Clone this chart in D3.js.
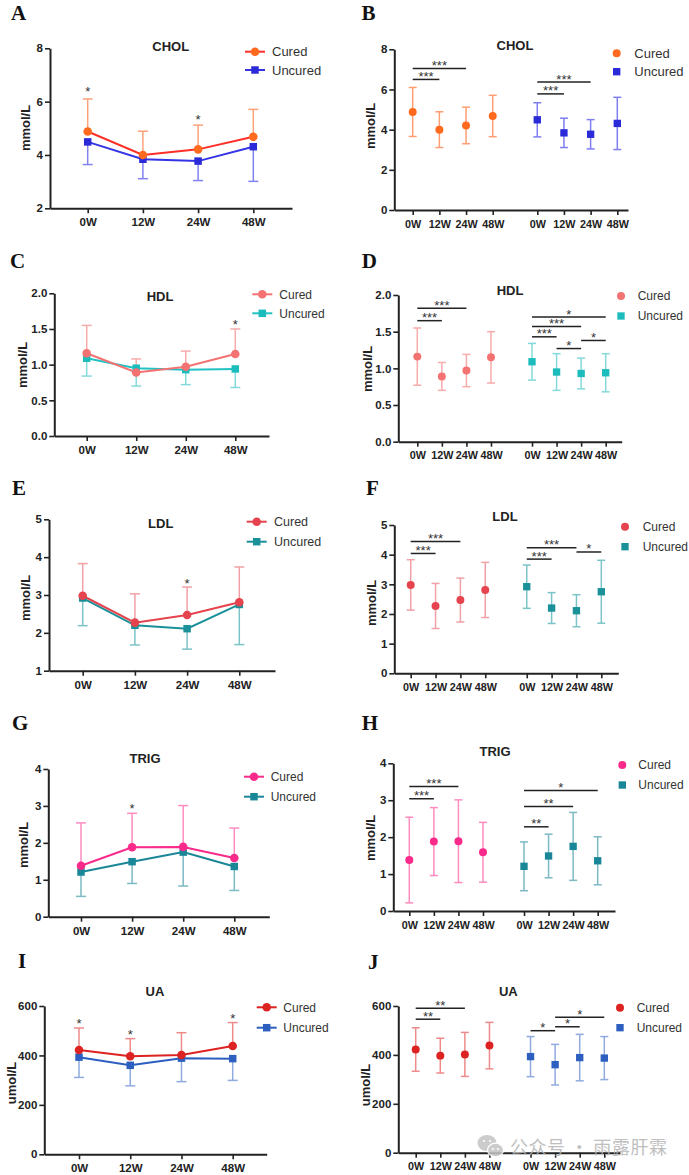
<!DOCTYPE html>
<html><head><meta charset="utf-8">
<script src="https://cdn.jsdelivr.net/npm/d3@7"></script>
<style>body{margin:0;background:#fff} svg{display:block}</style>
</head><body>
<svg id="chart" width="689" height="1175"></svg>
<script>
const times = ["0W","12W","24W","48W"];
const groups = ["Cured","Uncured"];

const cholCuredMean = [4.88, 4.00, 4.21, 4.68];
const cholCuredSD = [1.22, 0.89, 0.91, 1.03];
const cholUncuredMean = [4.49, 3.84, 3.77, 4.31];
const cholUncuredSD = [0.85, 0.73, 0.73, 1.30];

const hdlCuredMean = [1.16, 0.89, 0.97, 1.15];
const hdlCuredSD = [0.39, 0.19, 0.22, 0.35];
const hdlUncuredMean = [1.09, 0.95, 0.93, 0.94];
const hdlUncuredSD = [0.25, 0.25, 0.21, 0.26];

const ldlCuredMean = [2.98, 2.27, 2.47, 2.81];
const ldlCuredSD = [0.85, 0.76, 0.74, 0.93];
const ldlUncuredMean = [2.92, 2.20, 2.11, 2.75];
const ldlUncuredSD = [0.73, 0.52, 0.54, 1.06];

const trigCuredMean = [1.38, 1.88, 1.89, 1.59];
const trigCuredSD = [1.16, 0.92, 1.12, 0.81];
const trigUncuredMean = [1.21, 1.49, 1.75, 1.36];
const trigUncuredSD = [0.66, 0.59, 0.92, 0.65];

const uaCuredMean = [422, 397, 402, 438];
const uaCuredSD = [89, 71, 90, 95];
const uaUncuredMean = [393, 360, 389, 387];
const uaUncuredSD = [82, 83, 95, 88];

// between-group stars: [time index, y value, label]
const cholGroupStars = [[0, 6.5, "*"], [2, 5.45, "*"]];
const hdlGroupStars = [[3, 1.61, "*"]];
const ldlGroupStars = [[2, 3.37, "*"]];
const trigGroupStars = [[1, 3.0, "*"]];
const uaGroupStars = [[0, 540, "*"], [1, 496, "*"], [3, 563, "*"]];

// within-group comparisons: [group index, from time, to time, y value, label]
const cholPairs = [[0,0,2,7.05,"***"],[0,0,1,6.5,"***"],[1,0,2,6.37,"***"],[1,0,1,5.78,"***"]];
const hdlPairs = [[0,0,2,1.82,"***"],[0,0,1,1.65,"***"],[1,0,3,1.70,"*"],[1,0,2,1.57,"***"],[1,0,1,1.43,"***"],[1,2,3,1.38,"*"],[1,1,2,1.27,"*"]];
const ldlPairs = [[0,0,2,4.44,"***"],[0,0,1,4.04,"***"],[1,0,2,4.23,"***"],[1,0,1,3.85,"***"],[1,2,3,4.09,"*"]];
const trigPairs = [[0,0,2,3.37,"***"],[0,0,1,3.04,"***"],[1,0,3,3.26,"*"],[1,0,2,2.83,"**"],[1,0,1,2.28,"**"]];
const uaPairs = [[0,0,2,591,"**"],[0,0,1,546,"**"],[1,0,1,499,"*"],[1,1,3,554,"*"],[1,1,2,515,"*"]];

const yTicksCholA = [2,4,6,8];
const yTicksCholB = [0,2,4,6,8];
const yTicksHdl = [0,0.5,1,1.5,2];
const yTicksLdlE = [1,2,3,4,5];
const yTicksLdlF = [0,1,2,3,4,5];
const yTicksTrig = [0,1,2,3,4];
const yTicksUa = [0,200,400,600];

const svg = d3.select("#chart");
const FONT = "'Liberation Sans', Arial, Helvetica, sans-serif";
const SERIF = "'Liberation Serif', 'Times New Roman', serif";
const GAP = 1.67;

function styleAxis(g, fs){
  g.selectAll("path.domain").attr("stroke","#222").attr("stroke-width",2);
  g.selectAll(".tick line").attr("stroke","#222").attr("stroke-width",1.6);
  g.selectAll(".tick text").attr("font-family",FONT).attr("font-size",fs)
    .attr("font-weight","bold").attr("fill","#222");
}

function frame(cfg, x, y, xTickVals, xTickFmt, xfs){
  svg.append("text").attr("x",cfg.lx).attr("y",cfg.ly).text(cfg.letter)
    .attr("font-family",SERIF).attr("font-weight","bold").attr("font-size",21).attr("fill","#111");
  const gy = svg.append("g").attr("transform",`translate(${cfg.left},0)`)
    .call(d3.axisLeft(y).tickValues(cfg.yTicks).tickFormat(cfg.yFormat || d3.format("d"))
      .tickSizeInner(5).tickSizeOuter(0).tickPadding(2));
  styleAxis(gy, 11.5);
  const gx = svg.append("g").attr("transform",`translate(0,${cfg.bottom})`)
    .call(d3.axisBottom(x).tickValues(xTickVals).tickFormat(xTickFmt)
      .tickSizeInner(5).tickSizeOuter(0).tickPadding(5));
  styleAxis(gx, xfs);
  svg.append("text").attr("x",cfg.tx).attr("y",cfg.ty).attr("dy","0.36em")
    .attr("text-anchor","middle").attr("font-family",FONT).attr("font-weight","bold")
    .attr("font-size",13).attr("fill","#222").text(cfg.title);
  svg.append("text").attr("transform",`translate(${cfg.yx},${cfg.yy}) rotate(-90)`)
    .attr("dy","0.36em").attr("text-anchor","middle").attr("font-family",FONT)
    .attr("font-weight","bold").attr("font-size",13).attr("fill","#222").text(cfg.ylab);
}

const circleSym = d3.symbol(d3.symbolCircle, 58);
const squareSym = d3.symbol(d3.symbolSquare, 56);
const circleSmall = d3.symbol(d3.symbolCircle, 50);
const squareSmall = d3.symbol(d3.symbolSquare, 54);

function errBar(g, x, y1, y2, color, cap){
  g.append("line").attr("x1",x).attr("x2",x).attr("y1",y1).attr("y2",y2)
    .attr("stroke",color).attr("stroke-width",1.5);
  g.append("line").attr("x1",x-cap).attr("x2",x+cap).attr("y1",y2).attr("y2",y2)
    .attr("stroke",color).attr("stroke-width",1.5);
}

function linePanel(cfg, d){
  const y = d3.scaleLinear().domain(cfg.yDomain).range([cfg.bottom, cfg.top]);
  const n = times.length - 1;
  const step = (cfg.xLast - cfg.xFirst) / n;
  const x = d3.scaleLinear()
    .domain([(cfg.left - cfg.xFirst)/step, n + (cfg.right - cfg.xLast)/step])
    .range([cfg.left, cfg.right]);
  frame(cfg, x, y, d3.range(times.length), i => times[i], 11.5);
  const series = [
    {mean:d.uMean, sd:d.uSD, dir:-1, line:cfg.col.uLine, mark:cfg.col.uMark, err:cfg.col.uErr, sym:squareSym},
    {mean:d.cMean, sd:d.cSD, dir:1, line:cfg.col.cLine, mark:cfg.col.cMark, err:cfg.col.cErr, sym:circleSym}
  ];
  const g = svg.append("g");
  series.forEach(s => {
    s.mean.forEach((m,i) => errBar(g, x(i), y(m), y(m + s.dir*s.sd[i]), s.err, 5));
  });
  series.forEach(s => {
    g.append("path").datum(s.mean)
      .attr("d", d3.line().x((m,i)=>x(i)).y(m=>y(m)))
      .attr("fill","none").attr("stroke",s.line).attr("stroke-width",2);
  });
  series.forEach(s => {
    g.selectAll(null).data(s.mean).join("path")
      .attr("transform",(m,i)=>`translate(${x(i)},${y(m)})`)
      .attr("d",s.sym()).attr("fill",s.mark);
  });
  d.stars.forEach(st => {
    g.append("text").attr("x",x(st[0])).attr("y",y(st[1])).attr("dy","0.57em")
      .attr("text-anchor","middle").attr("font-family",FONT).attr("font-size",13)
      .attr("fill","#333").text(st[2]);
  });
  const L = cfg.leg;
  const leg = [[groups[0], L.y1, cfg.col.cLine, cfg.col.cMark, circleSym],
               [groups[1], L.y2, cfg.col.uLine, cfg.col.uMark, squareSym]];
  leg.forEach(([name, ly, lc, mc, sym]) => {
    svg.append("line").attr("x1",L.mx-10).attr("x2",L.mx+10).attr("y1",ly).attr("y2",ly)
      .attr("stroke",lc).attr("stroke-width",2);
    svg.append("path").attr("transform",`translate(${L.mx},${ly})`).attr("d",sym()).attr("fill",mc);
    svg.append("text").attr("x",L.tx).attr("y",ly).attr("dy","0.36em")
      .attr("font-family",FONT).attr("font-size",L.fs).attr("fill","#333").text(name);
  });
}

function groupPanel(cfg, d){
  const y = d3.scaleLinear().domain(cfg.yDomain).range([cfg.bottom, cfg.top]);
  const span = 2*(times.length-1) + GAP;
  const step = (cfg.xLast - cfg.xFirst) / span;
  const x = d3.scaleLinear()
    .domain([(cfg.left - cfg.xFirst)/step, span + (cfg.right - cfg.xLast)/step])
    .range([cfg.left, cfg.right]);
  const pos = (gi, ti) => gi*(times.length-1+GAP) + ti;
  const tickVals = [], tickLab = {};
  groups.forEach((gname,gi)=>times.forEach((t,ti)=>{ const p = pos(gi,ti); tickVals.push(p); tickLab[p]=t; }));
  frame(cfg, x, y, tickVals, v => tickLab[v], 10.8);
  const series = [
    {mean:d.cMean, sd:d.cSD, mark:cfg.col.cMark, err:cfg.col.cErr, sym:circleSmall},
    {mean:d.uMean, sd:d.uSD, mark:cfg.col.uMark, err:cfg.col.uErr, sym:squareSmall}
  ];
  const g = svg.append("g");
  series.forEach((s,gi) => {
    s.mean.forEach((m,i) => {
      errBar(g, x(pos(gi,i)), y(m), y(m + s.sd[i]), s.err, 4);
      errBar(g, x(pos(gi,i)), y(m), y(m - s.sd[i]), s.err, 4);
    });
    g.selectAll(null).data(s.mean).join("path")
      .attr("transform",(m,i)=>`translate(${x(pos(gi,i))},${y(m)})`)
      .attr("d",s.sym()).attr("fill",s.mark);
  });
  d.pairs.forEach(([gi,a,b,v,lab]) => {
    const x1 = x(pos(gi,a)), x2 = x(pos(gi,b)), yy = y(v);
    g.append("line").attr("x1",x1).attr("x2",x2).attr("y1",yy).attr("y2",yy)
      .attr("stroke","#222").attr("stroke-width",1.5);
    g.append("text").attr("x",(x1+x2)/2).attr("y",yy+1.5).attr("text-anchor","middle")
      .attr("font-family",FONT).attr("font-size",13).attr("fill","#333").text(lab);
  });
  const L = cfg.leg;
  [[groups[0], L.y1, cfg.col.cMark, circleSmall],[groups[1], L.y2, cfg.col.uMark, squareSmall]]
  .forEach(([name, ly, mc, sym]) => {
    svg.append("path").attr("transform",`translate(${L.mx},${ly})`).attr("d",sym()).attr("fill",mc);
    svg.append("text").attr("x",L.tx).attr("y",ly).attr("dy","0.36em")
      .attr("font-family",FONT).attr("font-size",L.fs).attr("fill","#333").text(name);
  });
}

const colChol = {cLine:"#ff2e26", cMark:"#ff6a1f", cErr:"#ffa27a", uLine:"#3434e6", uMark:"#2a2ad8", uErr:"#8282f0"};
const colCholB = {cMark:"#ff6a1f", cErr:"#ff9e72", uMark:"#2a2ad8", uErr:"#7e7ef0"};
const colHdl = {cLine:"#f47272", cMark:"#f47272", cErr:"#f8abab", uLine:"#22c2c2", uMark:"#1dbcbc", uErr:"#84dada"};
const colLdl = {cLine:"#e5434d", cMark:"#e5434d", cErr:"#f1a0a5", uLine:"#1a9199", uMark:"#1a9199", uErr:"#7cc3c7"};
const colTrig = {cLine:"#fa2a8a", cMark:"#fa2a8a", cErr:"#ff8cc0", uLine:"#1a8799", uMark:"#1a8799", uErr:"#7cb9c3"};
const colUa = {cLine:"#dd2222", cMark:"#dd2222", cErr:"#ee8a8a", uLine:"#2c5fbf", uMark:"#2c5fbf", uErr:"#8eaade"};

linePanel({letter:"A", lx:11, ly:19.5, left:50, right:292, top:48.3, bottom:208.3, yDomain:[2,8], yTicks:yTicksCholA,
  xFirst:87.7, xLast:253.3, title:"CHOL", tx:170.7, ty:46.7, ylab:"mmol/L", yx:25, yy:128,
  leg:{mx:255, y1:51.7, y2:70, tx:272, fs:13}, col:colChol},
  {cMean:cholCuredMean, cSD:cholCuredSD, uMean:cholUncuredMean, uSD:cholUncuredSD, stars:cholGroupStars});

groupPanel({letter:"B", lx:361.5, ly:19.5, left:394.3, right:628, top:49.3, bottom:210, yDomain:[0,8], yTicks:yTicksCholB,
  xFirst:412.7, xLast:617.3, title:"CHOL", tx:515, ty:45, ylab:"mmol/L", yx:370, yy:126,
  leg:{mx:616.7, y1:53.3, y2:71.7, tx:634.3, fs:13}, col:colCholB},
  {cMean:cholCuredMean, cSD:cholCuredSD, uMean:cholUncuredMean, uSD:cholUncuredSD, pairs:cholPairs});

linePanel({letter:"C", lx:10, ly:268, left:54.3, right:269, top:293.3, bottom:436, yDomain:[0,2], yTicks:yTicksHdl, yFormat:d3.format(".1f"),
  xFirst:86.7, xLast:235.3, title:"HDL", tx:160, ty:296.7, ylab:"mmol/L", yx:22, yy:365,
  leg:{mx:262.3, y1:294.3, y2:313.3, tx:279.3, fs:12}, col:colHdl},
  {cMean:hdlCuredMean, cSD:hdlCuredSD, uMean:hdlUncuredMean, uSD:hdlUncuredSD, stars:hdlGroupStars});

groupPanel({letter:"D", lx:361.7, ly:268, left:398.3, right:621.7, top:295, bottom:441.7, yDomain:[0,2], yTicks:yTicksHdl, yFormat:d3.format(".1f"),
  xFirst:417.3, xLast:605.7, title:"HDL", tx:510, ty:290, ylab:"mmol/L", yx:367.5, yy:369,
  leg:{mx:621, y1:296, y2:316, tx:637.7, fs:12}, col:colHdl},
  {cMean:hdlCuredMean, cSD:hdlCuredSD, uMean:hdlUncuredMean, uSD:hdlUncuredSD, pairs:hdlPairs});

linePanel({letter:"E", lx:12, ly:495, left:49, right:275, top:519.3, bottom:670.7, yDomain:[1,5], yTicks:yTicksLdlE,
  xFirst:82.7, xLast:239.3, title:"LDL", tx:160.7, ty:523.3, ylab:"mmol/L", yx:25, yy:598,
  leg:{mx:256.7, y1:521.7, y2:541.7, tx:274, fs:12.5}, col:colLdl},
  {cMean:ldlCuredMean, cSD:ldlCuredSD, uMean:ldlUncuredMean, uSD:ldlUncuredSD, stars:ldlGroupStars});

groupPanel({letter:"F", lx:366, ly:495, left:394.3, right:618.3, top:525, bottom:673.3, yDomain:[0,5], yTicks:yTicksLdlF,
  xFirst:410.7, xLast:601.3, title:"LDL", tx:505, ty:516.7, ylab:"mmol/L", yx:371.7, yy:603,
  leg:{mx:625, y1:526.7, y2:546.7, tx:642.7, fs:12}, col:colLdl},
  {cMean:ldlCuredMean, cSD:ldlCuredSD, uMean:ldlUncuredMean, uSD:ldlUncuredSD, pairs:ldlPairs});

linePanel({letter:"G", lx:12, ly:730, left:48.3, right:269.3, top:769, bottom:916.7, yDomain:[0,4], yTicks:yTicksTrig,
  xFirst:81, xLast:234.3, title:"TRIG", tx:145, ty:758.3, ylab:"mmol/L", yx:23.3, yy:845,
  leg:{mx:254, y1:776.7, y2:796.7, tx:270.7, fs:12}, col:colTrig},
  {cMean:trigCuredMean, cSD:trigCuredSD, uMean:trigUncuredMean, uSD:trigUncuredSD, stars:trigGroupStars});

groupPanel({letter:"H", lx:361.7, ly:730, left:393.3, right:615, top:763.3, bottom:911, yDomain:[0,4], yTicks:yTicksTrig,
  xFirst:409.3, xLast:597.7, title:"TRIG", tx:495, ty:751.7, ylab:"mmol/L", yx:370, yy:838,
  leg:{mx:622.3, y1:765, y2:785, tx:638.3, fs:12}, col:colTrig},
  {cMean:trigCuredMean, cSD:trigCuredSD, uMean:trigUncuredMean, uSD:trigUncuredSD, pairs:trigPairs});

linePanel({letter:"I", lx:18, ly:968, left:44.3, right:266.7, top:1006, bottom:1154.3, yDomain:[0,600], yTicks:yTicksUa,
  xFirst:79, xLast:232.7, title:"UA", tx:155, ty:991.7, ylab:"umol/L", yx:11, yy:1083,
  leg:{mx:266.7, y1:1007.3, y2:1027.7, tx:283.3, fs:12}, col:colUa},
  {cMean:uaCuredMean, cSD:uaCuredSD, uMean:uaUncuredMean, uSD:uaUncuredSD, stars:uaGroupStars});

groupPanel({letter:"J", lx:368, ly:969, left:398.3, right:620, top:1006, bottom:1152.7, yDomain:[0,600], yTicks:yTicksUa,
  xFirst:415.7, xLast:604.3, title:"UA", tx:508.3, ty:991.7, ylab:"umol/L", yx:365, yy:1085,
  leg:{mx:620, y1:1007.7, y2:1027.7, tx:636.7, fs:12}, col:colUa},
  {cMean:uaCuredMean, cSD:uaCuredSD, uMean:uaUncuredMean, uSD:uaUncuredSD, pairs:uaPairs});

// watermark
const wm = svg.append("g").attr("opacity",0.85);
wm.append("ellipse").attr("cx",487).attr("cy",1143).attr("rx",9.5).attr("ry",8).attr("fill","#c4c4c4");
wm.append("ellipse").attr("cx",495.5).attr("cy",1150).attr("rx",8).attr("ry",6.8).attr("fill","#c4c4c4").attr("stroke","#fff").attr("stroke-width",1.2);
[[484,1141],[490,1141],[493,1149],[498,1149]].forEach(([cx,cy])=>wm.append("circle").attr("cx",cx).attr("cy",cy).attr("r",1.1).attr("fill","#fff"));
wm.append("text").attr("x",510).attr("y",1153.5).attr("font-family","'Noto Sans CJK SC', sans-serif")
  .attr("font-size",18).attr("fill","#b4b4b4").attr("textLength",157).attr("lengthAdjust","spacing")
  .text("公众号 · 雨露肝霖");
</script>
</body></html>
